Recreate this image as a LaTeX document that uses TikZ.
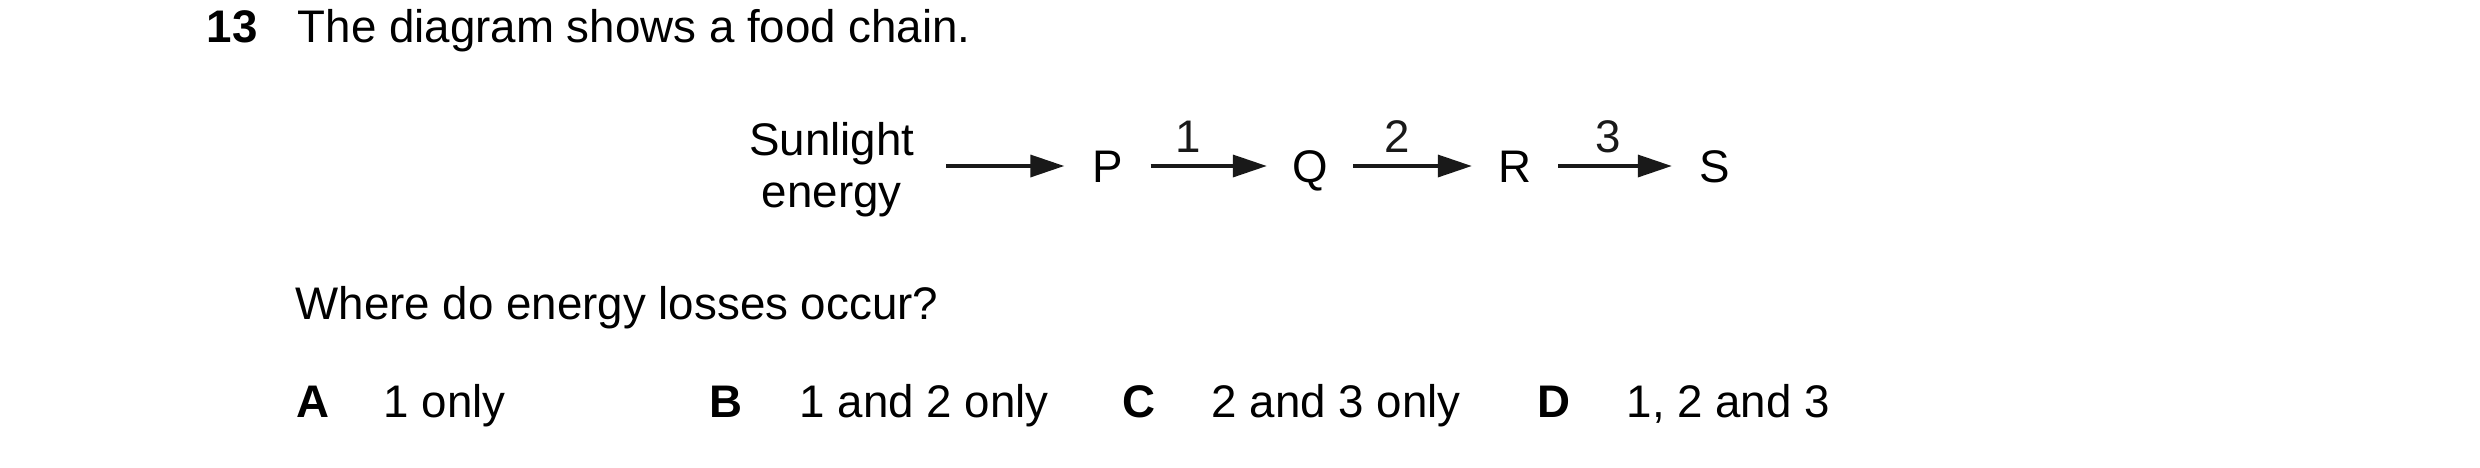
\documentclass[tikz,border=0pt]{standalone}
\usepackage{fontspec}
\setmainfont{Liberation Sans}
\usetikzlibrary{arrows.meta}

\tikzset{
  txt/.style={anchor=base west, inner sep=0pt},
  organism/.style={inner sep=0pt, minimum width=0.85cm, text height=0.33cm, text depth=0pt},
  source/.style={anchor=east, inner xsep=0.31cm, inner ysep=0pt, align=center,
    font=\fontsize{13}{14.8}\selectfont},
  num/.style={anchor=base, inner sep=0pt, yshift=0.14cm},
  flow/.style={-{Triangle[length=0.34cm,width=0.22cm]}, line width=0.035cm, black!90}
}

\begin{document}
\begin{tikzpicture}[font=\fontsize{13}{15}\selectfont]
\useasboundingbox (0,0) rectangle (24.8,-4.67);
\node[txt, font=\fontsize{13}{15}\selectfont\bfseries] (qnum) at (2.06,-0.42) {13};
\node[txt] (stem) at (2.97,-0.42) {The diagram shows a food chain.};

% the food chain
\node[source] (sun) at (9.46,-1.695) {Sunlight\\energy};
\node[organism] (P) at (11.075,-1.66) {P};
\node[organism] (Q) at (13.10,-1.66) {Q};
\node[organism] (R) at (15.15,-1.66) {R};
\node[organism] (S) at (17.15,-1.66) {S};
\draw[flow] (sun.east |- P) -- (P);
\draw[flow] (P) -- node[num, pos=0.32] {1} (Q);
\draw[flow] (Q) -- node[num, pos=0.37] {2} (R);
\draw[flow] (R) -- node[num, pos=0.44] {3} (S);

\node[txt] (ask) at (2.95,-3.19) {Where do energy losses occur?};

% answers
\node[txt, font=\fontsize{13}{15}\selectfont\bfseries] (keyA) at (2.96,-4.17) {A};
\node[txt] (ansA) at (3.83,-4.17) {1 only};
\node[txt, font=\fontsize{13}{15}\selectfont\bfseries] (keyB) at (7.09,-4.17) {B};
\node[txt] (ansB) at (7.99,-4.17) {1 and 2 only};
\node[txt, font=\fontsize{13}{15}\selectfont\bfseries] (keyC) at (11.22,-4.17) {C};
\node[txt] (ansC) at (12.11,-4.17) {2 and 3 only};
\node[txt, font=\fontsize{13}{15}\selectfont\bfseries] (keyD) at (15.37,-4.17) {D};
\node[txt] (ansD) at (16.26,-4.17) {1, 2 and 3};
\end{tikzpicture}
\end{document}
